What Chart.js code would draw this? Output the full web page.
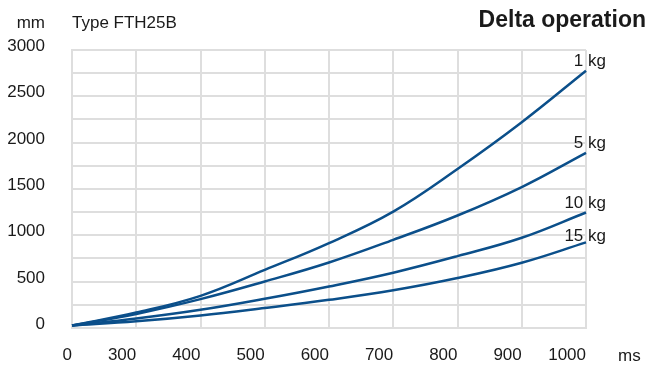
<!DOCTYPE html>
<html>
<head>
<meta charset="utf-8">
<script src="https://cdn.jsdelivr.net/npm/chart.js@4/dist/chart.umd.min.js"></script>
<style>
  html, body { margin: 0; padding: 0; background: #fff; }
  #wrap { width: 648px; height: 365px; position: relative; }
</style>
</head>
<body>
<div id="wrap"><canvas id="chartCanvas"></canvas></div>
<script>
// time axis (ms) - the axis is broken between 0 and 300
const timeLabels = ["0", "300", "400", "500", "600", "700", "800", "900", "1000"];
const seriesNames = ["1 kg", "5 kg", "10 kg", "15 kg"];
const kg1 = [25, 165, 345, 625, 915, 1255, 1715, 2220, 2776];
const kg5 = [25, 150, 310, 500, 705, 950, 1213, 1520, 1890];
const kg10 = [25, 100, 194, 313, 446, 595, 774, 972, 1245];
const kg15 = [25, 70, 133, 214, 302, 405, 537, 702, 922];
const yTicks = [0, 500, 1000, 1500, 2000, 2500, 3000];

const textColor = "#1a1a1a";
const gridColor = "#dedede";
const lineColor = "#0b4f8a";
const fontFamily = "'Liberation Sans', Arial, Helvetica, sans-serif";

Chart.defaults.font.family = fontFamily;
Chart.defaults.font.size = 17;
Chart.defaults.color = textColor;

const headerPlugin = {
  id: "header",
  afterDraw(chart) {
    const ctx = chart.ctx;
    const area = chart.chartArea;
    ctx.save();
    ctx.fillStyle = textColor;
    ctx.textBaseline = "middle";

    ctx.font = "17px " + fontFamily;
    ctx.textAlign = "right";
    ctx.fillText("mm", 45, 23);
    ctx.textAlign = "left";
    ctx.fillText("Type FTH25B", 72, 23);
    ctx.fillText("ms", 618, 356);

    ctx.font = "bold 23px " + fontFamily;
    ctx.textAlign = "right";
    ctx.fillText("Delta operation", 646, 21);

    // curve names at the end of each line
    ctx.font = "17px " + fontFamily;
    chart.data.datasets.forEach((ds, i) => {
      const pts = chart.getDatasetMeta(i).data;
      const last = pts[pts.length - 1];
      ctx.fillText(ds.label, area.right + 20, last.y - (i === 3 ? 6 : 9));
    });
    ctx.restore();
  }
};

const makeSet = (label, data) => ({
  label,
  data,
  borderColor: lineColor,
  borderWidth: 2.5,
  pointRadius: 0,
  fill: false,
  tension: 0.4
});

new Chart(document.getElementById("chartCanvas"), {
  type: "line",
  data: {
    labels: timeLabels,
    datasets: [
      makeSet(seriesNames[0], kg1),
      makeSet(seriesNames[1], kg5),
      makeSet(seriesNames[2], kg10),
      makeSet(seriesNames[3], kg15)
    ]
  },
  options: {
    responsive: true,
    maintainAspectRatio: false,
    animation: false,
    layout: { padding: { top: 50, right: 62, left: 0, bottom: 0 } },
    plugins: {
      legend: { display: false },
      tooltip: { enabled: false }
    },
    scales: {
      x: {
        type: "category",
        offset: false,
        grid: { color: gridColor, lineWidth: 2, drawTicks: false },
        border: { color: gridColor, width: 2 },
        ticks: { align: "end", padding: 17, maxRotation: 0, autoSkip: false },
        afterFit(scale) { scale.height = 36.5; }
      },
      y: {
        min: 0,
        max: 3000,
        grid: { color: gridColor, lineWidth: 2, drawTicks: false },
        border: { color: gridColor, width: 2 },
        ticks: {
          stepSize: 250,
          padding: 27,
          labelOffset: -3.5,
          callback: v => (yTicks.includes(v) ? String(v) : "")
        },
        afterFit(scale) { scale.width = 72; }
      }
    }
  },
  plugins: [headerPlugin]
});
</script>
</body>
</html>
